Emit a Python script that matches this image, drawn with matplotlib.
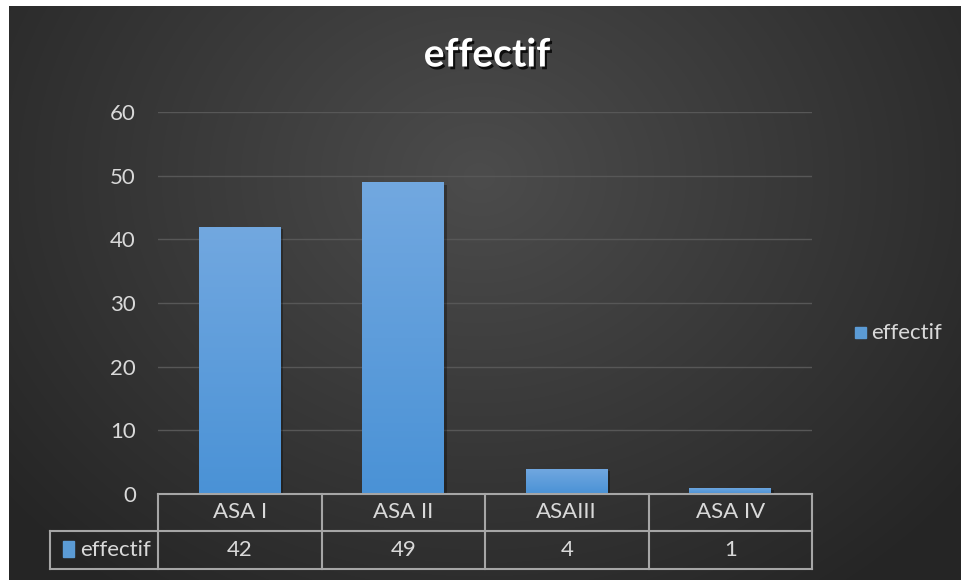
import matplotlib.pyplot as plt
import matplotlib.patheffects as pe
import numpy as np
from matplotlib.transforms import blended_transform_factory
from matplotlib.patches import Rectangle

###############################################################
# Data
###############################################################
categories = ["ASA I", "ASA II", "ASAIII", "ASA IV"]
effectif = [42, 49, 4, 1]
series_name = "effectif"
title = "effectif"
yticks = [0, 10, 20, 30, 40, 50, 60]

plt.rcParams['font.family'] = ['Lato', 'DejaVu Sans']

W, H = 961, 580
fig = plt.figure(figsize=(W / 100, H / 100), dpi=100)
fig.patch.set_facecolor('white')

# pixel -> figure fraction helpers
def fx(px):
    return px / W

def fy(py):
    return 1 - py / H

# Background: dark radial gradient (chart area starts at x=9, y=6)
bg = fig.add_axes([fx(9), 0, 1 - fx(9), fy(6)])
bg.set_axis_off()
yy, xx = np.mgrid[0:574, 0:952]
r = np.sqrt(((xx - 470) / 620.0) ** 2 + ((yy - 170) / 520.0) ** 2)
r = np.clip(r, 0, 1)
light = np.array([0x4c, 0x4c, 0x4c]) / 255
dark = np.array([0x25, 0x25, 0x25]) / 255
img = light[None, None, :] * (1 - r[..., None]) + dark[None, None, :] * r[..., None]
bg.imshow(img, aspect='auto', extent=[0, 1, 0, 1], interpolation='bilinear')
bg.set_xlim(0, 1)
bg.set_ylim(0, 1)

###############################################################
# Plot area
###############################################################
ax_left, ax_right = 158, 812
ax_bottom, ax_top = 494, 112
ax = fig.add_axes([fx(ax_left), fy(ax_bottom), fx(ax_right) - fx(ax_left), fy(ax_top) - fy(ax_bottom)])
ax.set_facecolor('none')
x = np.arange(len(categories))
ax.set_xlim(-0.5, len(categories) - 0.5)
ax.set_ylim(0, 60)

# gridlines
for t in yticks[1:]:
    ax.axhline(t, color='#575757', lw=1.0, zorder=0)

# bars with vertical gradient
grad = np.linspace(0, 1, 256)[:, None]
top_c = np.array([0x72, 0xa8, 0xe0]) / 255
bot_c = np.array([0x4a, 0x92, 0xd6]) / 255
bar_img = top_c[None, None, :] * (1 - grad[..., None]) + bot_c[None, None, :] * grad[..., None]
bars = ax.bar(x, effectif, width=0.5, color='#5b9bd5', zorder=2,
              path_effects=[pe.SimplePatchShadow(offset=(2, -2), shadow_rgbFace='black', alpha=0.3), pe.Normal()])
for b in bars:
    x0, y0 = b.get_x(), b.get_y()
    w, h = b.get_width(), b.get_height()
    im = ax.imshow(bar_img, extent=[x0, x0 + w, y0, y0 + h], aspect='auto', zorder=3, interpolation='bilinear')
    im.set_clip_path(b)

ax.set_xticks([])
ax.set_yticks(yticks)
ax.set_yticklabels([str(t) for t in yticks], color='#d9d9d9', fontsize=16)
ax.tick_params(axis='y', length=0, pad=16)
for s in ax.spines.values():
    s.set_visible(False)

###############################################################
# Data table below the axis
###############################################################
line_c = '#a6a6a6'
row1, row2, row3 = 494, 531, 569
table_left = 50
trans = blended_transform_factory(ax.transData, fig.transFigure)
xl = ax.get_xlim()
edges = np.arange(xl[0], xl[1] + 0.01, 1.0)

for yp in [row1, row2, row3]:
    left = fx(ax_left) if yp == row1 else fx(table_left)
    fig.add_artist(plt.Line2D([left, fx(ax_right)], [fy(yp), fy(yp)], color=line_c, lw=1.5, transform=fig.transFigure))
for e in edges:
    ax.plot([e, e], [fy(row1), fy(row3)], color=line_c, lw=1.5, transform=trans, clip_on=False)
fig.add_artist(plt.Line2D([fx(table_left), fx(table_left)], [fy(row2), fy(row3)], color=line_c, lw=1.5, transform=fig.transFigure))

for i, (c, v) in enumerate(zip(categories, effectif)):
    ax.text(i, fy((row1 + row2) / 2), c, transform=trans, ha='center', va='center', color='#d9d9d9', fontsize=16)
    ax.text(i, fy((row2 + row3) / 2), str(v), transform=trans, ha='center', va='center', color='#d9d9d9', fontsize=16)

# series label in the table with a legend key
fig.add_artist(Rectangle((fx(63), fy(557)), fx(11), fy(541) - fy(557), transform=fig.transFigure, color='#5b9bd5'))
fig.text(fx(80), fy((row2 + row3) / 2), series_name, ha='left', va='center', color='#d9d9d9', fontsize=16)

###############################################################
# Title and legend
###############################################################
fig.text(fx(487), fy(55), title, ha='center', va='center', color='white', fontsize=28, fontweight='bold',
         path_effects=[pe.SimplePatchShadow(offset=(1.5, -2), shadow_rgbFace='black', alpha=0.8), pe.Normal()])

fig.add_artist(Rectangle((fx(855), fy(338)), fx(11), fy(327) - fy(338), transform=fig.transFigure, color='#5b9bd5'))
fig.text(fx(871), fy(333), series_name, ha='left', va='center', color='#d9d9d9', fontsize=16)

fig.savefig('out.png', dpi=100, facecolor=fig.get_facecolor())
